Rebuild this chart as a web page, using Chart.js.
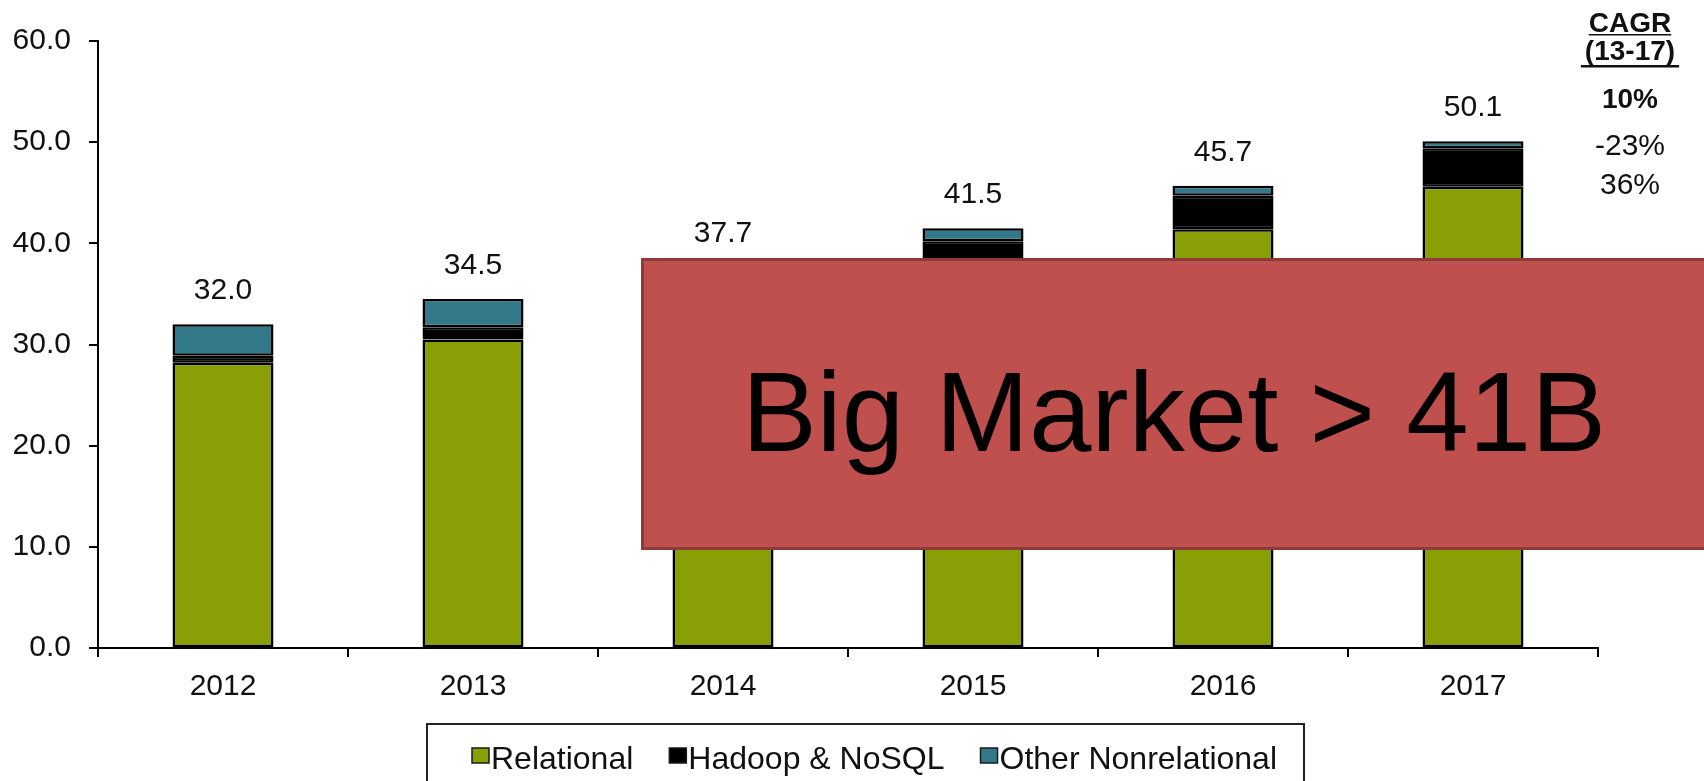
<!DOCTYPE html>
<html>
<head>
<meta charset="utf-8">
<script src="https://cdn.jsdelivr.net/npm/chart.js@4.4.1/dist/chart.umd.min.js"></script>
<style>
  html, body { margin: 0; padding: 0; background: #fff; }
  #wrap { position: relative; width: 1704px; height: 781px; overflow: hidden; }
</style>
</head>
<body>
<div id="wrap"><canvas id="marketChart" width="1704" height="781"></canvas></div>
<script>
// market size, $B
var years = ['2012', '2013', '2014', '2015', '2016', '2017'];
var relational = [28.2, 30.5, 33.7, 37.6, 41.4, 45.6];
var hadoopNoSql = [0.7, 1.2, 1.8, 2.6, 3.3, 3.8];
var otherNonrel = [3.1, 2.8, 2.2, 1.3, 1.0, 0.7];
var totals = [32.0, 34.5, 37.7, 41.5, 45.7, 50.1];
var yTicks = [0, 10, 20, 30, 40, 50, 60];
var cagrTitle = ['CAGR', '(13-17)'];
var cagrValues = ['10%', '-23%', '36%'];
var bannerText = 'Big Market > 41B';

var FONT = '"Liberation Sans", Arial, sans-serif';

var overlayPlugin = {
    id: 'overlay',
    afterDatasetsDraw: function (chart) {
        var ctx = chart.ctx;
        var meta = chart.getDatasetMeta(chart.data.datasets.length - 1);
        ctx.save();
        ctx.font = '30px ' + FONT;
        ctx.fillStyle = '#111';
        ctx.textAlign = 'center';
        ctx.textBaseline = 'alphabetic';
        meta.data.forEach(function (bar, i) {
            ctx.fillText(totals[i].toFixed(1), bar.x, bar.y - 25);
        });
        ctx.restore();
    },
    afterDraw: function (chart) {
        var ctx = chart.ctx;
        ctx.save();

        // CAGR column
        var cx = 1630;
        ctx.fillStyle = '#111';
        ctx.textAlign = 'center';
        ctx.textBaseline = 'alphabetic';
        ctx.font = 'bold 28px ' + FONT;
        ctx.fillText(cagrTitle[0], cx, 32);
        var w0 = ctx.measureText(cagrTitle[0]).width;
        ctx.fillRect(cx - w0 / 2, 34, w0, 1.5);
        ctx.fillText(cagrTitle[1], cx, 60);
        var w1 = ctx.measureText(cagrTitle[1]).width;
        ctx.fillRect(cx - w1 / 2 - 4, 65, w1 + 8, 2.5);
        ctx.fillText(cagrValues[0], cx, 108);
        ctx.font = '30px ' + FONT;
        ctx.fillText(cagrValues[1], cx, 155);
        ctx.fillText(cagrValues[2], cx, 194);

        // legend
        var items = chart.data.datasets.map(function (ds) {
            return { label: ds.label, color: ds.backgroundColor };
        });
        ctx.font = '32px ' + FONT;
        var sq = 17, txtGap = 2;
        var widths = items.map(function (it) {
            return sq + txtGap + ctx.measureText(it.label).width;
        });
        var startX = 472, endX = 1277;
        var used = widths.reduce(function (a, b) { return a + b; }, 0);
        var gap = (endX - startX - used) / (items.length - 1);
        ctx.lineWidth = 2;
        ctx.strokeStyle = '#222';
        ctx.strokeRect(427, 724, 1304 - 427, 90);
        var x = startX;
        ctx.textAlign = 'left';
        items.forEach(function (it, i) {
            ctx.fillStyle = it.color;
            ctx.fillRect(x, 748, sq, sq - 2);
            ctx.lineWidth = 1.5;
            ctx.strokeStyle = '#1a1a1a';
            ctx.strokeRect(x, 748, sq, sq - 2);
            ctx.fillStyle = '#111';
            ctx.fillText(it.label, x + sq + txtGap, 769);
            x += widths[i] + gap;
        });

        // red banner
        ctx.fillStyle = '#C0504D';
        ctx.fillRect(641, 258, 1100, 292);
        ctx.lineWidth = 3;
        ctx.strokeStyle = '#8E3A38';
        ctx.strokeRect(642.5, 259.5, 1100, 289);
        ctx.font = '114px ' + FONT;
        var tw = ctx.measureText(bannerText).width;
        ctx.translate(1174, 451);
        ctx.scale(864 / tw, 1);
        ctx.fillStyle = '#000';
        ctx.textAlign = 'center';
        ctx.fillText(bannerText, 0, 0);

        ctx.restore();
    }
};

new Chart(document.getElementById('marketChart'), {
    type: 'bar',
    data: {
        labels: years,
        datasets: [
            {
                label: 'Relational',
                data: relational,
                backgroundColor: '#8A9E05'
            },
            {
                label: 'Hadoop & NoSQL',
                data: hadoopNoSql,
                backgroundColor: '#000000'
            },
            {
                label: 'Other Nonrelational',
                data: otherNonrel,
                backgroundColor: '#34798A'
            }
        ]
    },
    options: {
        responsive: false,
        animation: false,
        devicePixelRatio: 1,
        layout: { padding: { top: 41, right: 106, left: 0, bottom: 0 } },
        datasets: {
            bar: {
                borderColor: '#000',
                borderWidth: 2.5,
                borderSkipped: false,
                categoryPercentage: 1,
                barPercentage: 0.404
            }
        },
        plugins: {
            legend: { display: false },
            tooltip: { enabled: false }
        },
        scales: {
            x: {
                stacked: true,
                offset: true,
                grid: { offset: true, drawOnChartArea: false, drawTicks: true, tickLength: 9, color: '#000', lineWidth: 2 },
                border: { display: true, color: '#000', width: 2 },
                ticks: { font: { family: FONT, size: 30 }, color: '#111', padding: 12 },
                afterFit: function (s) { s.height = 133; }
            },
            y: {
                stacked: true,
                min: 0,
                max: 60,
                afterBuildTicks: function (s) {
                    s.ticks = yTicks.map(function (v) { return { value: v }; });
                },
                ticks: {
                    font: { family: FONT, size: 30 },
                    color: '#111',
                    padding: 18,
                    callback: function (v) { return Number(v).toFixed(1); }
                },
                grid: { drawOnChartArea: false, drawTicks: true, tickLength: 9, color: '#000', lineWidth: 2 },
                border: { display: true, color: '#000', width: 2 },
                afterFit: function (s) { s.width = 98; }
            }
        }
    },
    plugins: [overlayPlugin]
});
</script>
</body>
</html>
